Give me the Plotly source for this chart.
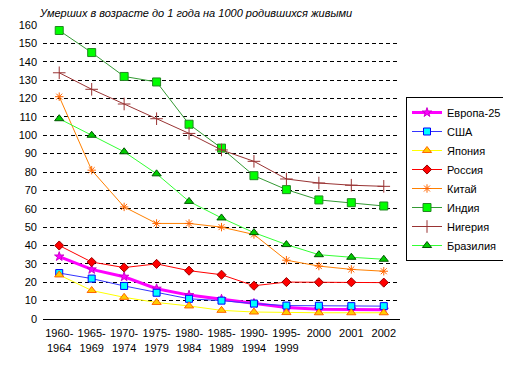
import plotly.graph_objects as go

categories = ["1960-<br>1964", "1965-<br>1969", "1970-<br>1974", "1975-<br>1979", "1980-<br>1984",
              "1985-<br>1989", "1990-<br>1994", "1995-<br>1999", "2000", "2001", "2002"]

europe = [34, 27, 23, 16.5, 13, 10.8, 8.5, 6.3, 5.3, 5.2, 5]
usa = [25, 22, 18, 14.3, 11, 10, 8.4, 7.3, 7.2, 7, 7]
japan = [24, 15.5, 11.8, 9, 7.1, 4.7, 3.8, 3.5, 3.4, 3.4, 3.4]
russia = [40, 31, 28, 30, 26.3, 24.1, 18.1, 20.1, 20, 20, 19.8]
china = [121, 81, 61, 52, 52, 50, 46, 32, 28.8, 27, 26]
india = [157, 145, 132, 129, 106, 93, 78, 70.4, 64.8, 63.3, 61.5]
nigeria = [134, 125, 117, 109, 101, 92, 85.8, 76.2, 74, 72.8, 72.2]
brazil = [109, 100, 91, 79, 64, 55, 47, 40.5, 35, 33.6, 32.5]

series = [
    ("Европа-25", europe, "#FF00FF", 3, dict(symbol="star", size=7, color="#FF00FF", line=dict(color="#CC00CC", width=1))),
    ("США", usa, "#3333FF", 1, dict(symbol="square", size=7, color="#00FFFF", line=dict(color="#0000FF", width=1))),
    ("Япония", japan, "#FFFF00", 1, dict(symbol="triangle-up", size=8, color="#FFCC00", line=dict(color="#FF6600", width=1))),
    ("Россия", russia, "#FF0000", 1, dict(symbol="diamond", size=7, color="#FF0000", line=dict(color="#990000", width=1))),
    ("Китай", china, "#FF8000", 1, dict(symbol="asterisk-open", size=7, color="#FF6600", line=dict(color="#FF3300", width=1))),
    ("Индия", india, "#339933", 1, dict(symbol="square", size=8, color="#00FF00", line=dict(color="#228822", width=1))),
    ("Нигерия", nigeria, "#993333", 1, dict(symbol="cross-thin-open", size=9, color="#993333", line=dict(color="#993333", width=1))),
    ("Бразилия", brazil, "#33FF33", 1, dict(symbol="triangle-up", size=8, color="#00CC00", line=dict(color="#005500", width=1))),
]

W, H = 503, 368

fig = go.Figure()
for name, vals, color, w, mk in series:
    fig.add_trace(go.Scatter(x=categories, y=vals, name=name, mode="lines+markers",
                             line=dict(color=color, width=w), marker=mk))

fig.update_layout(
    width=W, height=H,
    margin=dict(l=35, r=111, t=17, b=57, autoexpand=False),
    plot_bgcolor="white", paper_bgcolor="white",
    font=dict(family="Liberation Sans, Arial, sans-serif", size=11, color="black"),
    title=dict(text="<i>Умерших в возрасте до 1 года на 1000 родившихся живыми</i>",
               x=32 / W, xanchor="left", y=1 - 5 / H, yanchor="middle",
               font=dict(size=11, color="black")),
    showlegend=True,
    legend=dict(xref="container", yref="container", x=398 / W, y=1 - 89 / H,
                xanchor="left", yanchor="top",
                bordercolor="black", borderwidth=1, bgcolor="white",
                font=dict(size=11), tracegroupgap=0, itemwidth=30),
)
fig.update_xaxes(type="category", range=[-0.5, 10.5], showline=True, linecolor="black",
                 linewidth=1, showgrid=False, ticks="", tickfont=dict(size=11),
                 ticklabelstandoff=4)
fig.update_yaxes(range=[0, 160], dtick=10, showgrid=True, gridcolor="black", griddash="4px,3px",
                 gridwidth=1, zeroline=False, showline=False, ticks="", tickfont=dict(size=11),
                 ticklabelstandoff=5)

fig.write_html("out.html")
